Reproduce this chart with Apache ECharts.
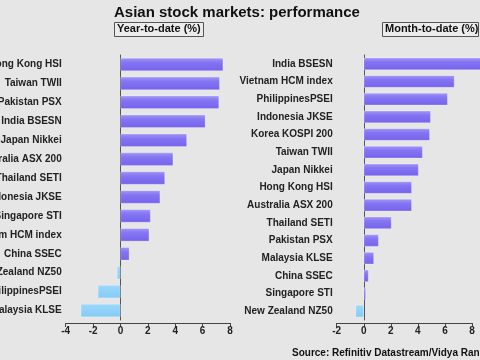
<!DOCTYPE html>
<html><head><meta charset="utf-8">
<script src="https://cdn.jsdelivr.net/npm/echarts@6/dist/echarts.min.js"></script>
<style>html,body{margin:0;padding:0;background:#e6e6e6}#c{width:480px;height:360px}</style>
</head><body><div id="c"></div>
<script>
const ytdCategories = ["Hong Kong HSI","Taiwan TWII","Pakistan PSX","India BSESN","Japan Nikkei","Australia ASX 200","Thailand SETI","Indonesia JKSE","Singapore STI","Vietnam HCM index","China SSEC","New Zealand NZ50","PhilippinesPSEI","Malaysia KLSE"];
const ytdValues = [7.5, 7.25, 7.2, 6.2, 4.85, 3.85, 3.25, 2.9, 2.2, 2.1, 0.65, -0.25, -1.65, -2.9];
const mtdCategories = ["India BSESN","Vietnam HCM index","PhilippinesPSEI","Indonesia JKSE","Korea KOSPI 200","Taiwan TWII","Japan Nikkei","Hong Kong HSI","Australia ASX 200","Thailand SETI","Pakistan PSX","Malaysia KLSE","China SSEC","Singapore STI","New Zealand NZ50"];
const mtdValues = [9.0, 6.7, 6.2, 4.95, 4.88, 4.35, 4.05, 3.55, 3.55, 2.05, 1.1, 0.75, 0.35, 0.15, -0.6];
const ytdTicks = [-4, -2, 0, 2, 4, 6, 8];
const mtdTicks = [-2, 0, 2, 4, 6, 8];

const FONT = "Liberation Sans";
const posColor = new echarts.graphic.LinearGradient(0,0,0,1,[{offset:0,color:'#a197f8'},{offset:0.35,color:'#8475f2'},{offset:1,color:'#7563ec'}]);
const negColor = new echarts.graphic.LinearGradient(0,0,0,1,[{offset:0,color:'#9bd8fb'},{offset:1,color:'#84cbf6'}]);
function barData(vals){ return vals.map(v => ({value:v, itemStyle:{color: v >= 0 ? posColor : negColor}})); }

const chart = echarts.init(document.getElementById('c'), null, {renderer:'canvas'});
function xAx(gi, ticks){
  return {type:'value', gridIndex:gi, min:ticks[0], max:ticks[ticks.length-1], interval:2, offset:3,
    axisLine:{show:true, onZero:false, lineStyle:{color:'#444', width:1}},
    axisTick:{show:true, inside:false, length:4, lineStyle:{color:'#444'}},
    axisLabel:{fontFamily:FONT, fontWeight:'bold', fontSize:10, color:'#222', margin:3},
    splitLine:{show:false}};
}
function yLab(gi, cats){
  return {type:'category', gridIndex:gi, data:cats, inverse:true, position:'left',
    axisLine:{show:false, onZero:false}, axisTick:{show:false},
    axisLabel:{fontFamily:FONT, fontWeight:'bold', fontSize:10, color:'#222', margin:4}};
}
function yZero(gi, cats){
  return {type:'category', gridIndex:gi, data:cats, inverse:true, position:'left',
    axisLine:{show:true, onZero:true, lineStyle:{color:'#555', width:1}}, axisTick:{show:false},
    axisLabel:{show:false}};
}
chart.setOption({
  backgroundColor:'#e6e6e6',
  animation:false,
  title:{text:'Asian stock markets: performance', left:109, top:0,
    textStyle:{fontFamily:FONT, fontWeight:'bold', fontSize:15, color:'#111'}},
  grid:[
    {left:65.7, right:250, top:55, height:265, containLabel:false, outerBoundsMode:'none'},
    {left:336.7, right:8, top:55, height:265, containLabel:false, outerBoundsMode:'none'}
  ],
  xAxis:[xAx(0, ytdTicks), xAx(1, mtdTicks)],
  yAxis:[yLab(0, ytdCategories), yZero(0, ytdCategories), yLab(1, mtdCategories), yZero(1, mtdCategories)],
  series:[
    {type:'bar', xAxisIndex:0, yAxisIndex:0, data:barData(ytdValues), barCategoryGap:'31%', clip:false,
      itemStyle:{borderColor:'rgba(255,255,255,0.5)', borderWidth:0.5}},
    {type:'bar', xAxisIndex:1, yAxisIndex:2, data:barData(mtdValues), barCategoryGap:'31%', clip:false,
      itemStyle:{borderColor:'rgba(255,255,255,0.5)', borderWidth:0.5}}
  ],
  graphic:[
    {type:'rect', left:114, top:22, shape:{width:89, height:14}, style:{fill:'#ececec', stroke:'#555', lineWidth:1}},
    {type:'text', left:117, top:23.5, style:{text:'Year-to-date (%)', font:'bold 11px "Liberation Sans"', fill:'#111'}},
    {type:'rect', left:382, top:22, shape:{width:96, height:14}, style:{fill:'#ececec', stroke:'#555', lineWidth:1}},
    {type:'text', left:385, top:23.5, style:{text:'Month-to-date (%)', font:'bold 11px "Liberation Sans"', fill:'#111'}},
    {type:'text', left:292, top:348, style:{text:'Source: Refinitiv Datastream/Vidya Ranganathan', font:'bold 10px "Liberation Sans"', fill:'#111'}}
  ]
});
</script></body></html>
